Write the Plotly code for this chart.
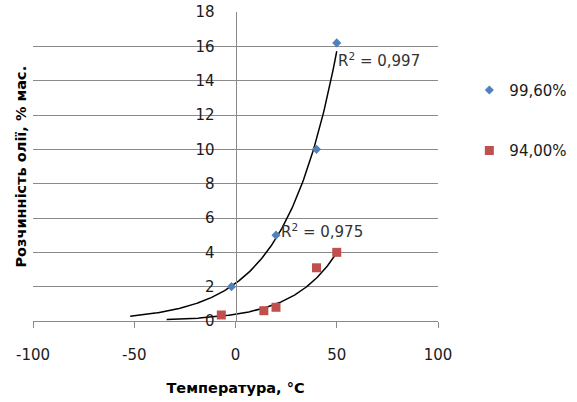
import numpy as np
import plotly.graph_objects as go

# ---- data ----
series_names = ["99,60%", "94,00%"]
temp_996 = [-2, 20, 40, 50]
sol_996 = [2.0, 5.0, 10.0, 16.2]
temp_940 = [-7, 14, 20, 40, 50]
sol_940 = [0.35, 0.6, 0.8, 3.1, 4.0]
trend_range_996 = [-52, 50]
trend_range_940 = [-34, 50]
r2_labels = ["R<sup>2</sup> = 0,997", "R<sup>2</sup> = 0,975"]
x_ticks = [-100, -50, 0, 50, 100]
x_tick_text = ["-100", "-50", "0", "50", "100"]
y_ticks = [0, 2, 4, 6, 8, 10, 12, 14, 16, 18]

blue = "#4F81BD"
red = "#C0504D"
grid = "#8A8A8A"
FONT = "DejaVu Sans"


def exp_trend(xs, ys, xr):
    b, ln_a = np.polyfit(np.array(xs, float), np.log(np.array(ys, float)), 1)
    xx = np.linspace(xr[0], xr[1], 200)
    return xx, np.exp(ln_a) * np.exp(b * xx)


fig = go.Figure()

for xs, ys, xr in [(temp_996, sol_996, trend_range_996), (temp_940, sol_940, trend_range_940)]:
    tx, ty = exp_trend(xs, ys, xr)
    fig.add_trace(go.Scatter(x=tx, y=ty, mode="lines", line=dict(color="black", width=1.5),
                             showlegend=False, hoverinfo="skip"))

fig.add_trace(go.Scatter(x=temp_996, y=sol_996, mode="markers", name=series_names[0],
                         legendgroup="a",
                         marker=dict(symbol="diamond", size=7, color=blue)))
fig.add_trace(go.Scatter(x=temp_940, y=sol_940, mode="markers", name=series_names[1],
                         legendgroup="b",
                         marker=dict(symbol="square", size=9, color=red)))

fig.add_annotation(x=49.5, y=15.2, text=r2_labels[0], showarrow=False, xanchor="left",
                   yanchor="middle", font=dict(family=FONT, size=15, color="#333333"))
fig.add_annotation(x=21.5, y=5.25, text=r2_labels[1], showarrow=False, xanchor="left",
                   yanchor="middle", font=dict(family=FONT, size=15, color="#333333"))

fig.add_annotation(xref="paper", yref="paper", x=-0.032, y=0.5, textangle=-90,
                   xanchor="center", yanchor="middle",
                   text="Розчинність олії, % мас.", showarrow=False,
                   font=dict(family=FONT, size=14.5, color="black", weight="bold"))

fig.update_layout(
    width=577, height=402,
    margin=dict(l=33, r=139, t=12, b=81, autoexpand=False),
    paper_bgcolor="white", plot_bgcolor="white",
    font=dict(family=FONT, size=15, color="#1a1a1a"),
    legend=dict(x=1.0774, y=0.80, xanchor="left", yanchor="top",
                tracegroupgap=38, font=dict(family=FONT, size=15, color="#1a1a1a"),
                bgcolor="rgba(0,0,0,0)"),
    xaxis=dict(range=[-100, 100], tickvals=x_ticks, ticktext=x_tick_text,
               showgrid=False, zeroline=False, automargin=False,
               showline=True, linecolor=grid, linewidth=1,
               ticks="outside", ticklen=6, tickcolor=grid, ticklabelstandoff=14,
               title=dict(text="Температура, °C", standoff=19,
                          font=dict(family=FONT, size=14.5, color="black", weight="bold"))),
    yaxis=dict(range=[0, 18], tickvals=y_ticks, showgrid=True, gridcolor=grid, gridwidth=1,
               zeroline=False, showline=True, linecolor=grid, linewidth=1, automargin=False,
               anchor="free", position=0.5, ticks="", ticklabelstandoff=18),
)

fig.write_html("out.html", config={"displayModeBar": False},
               post_script="document.body.style.margin='0';")
